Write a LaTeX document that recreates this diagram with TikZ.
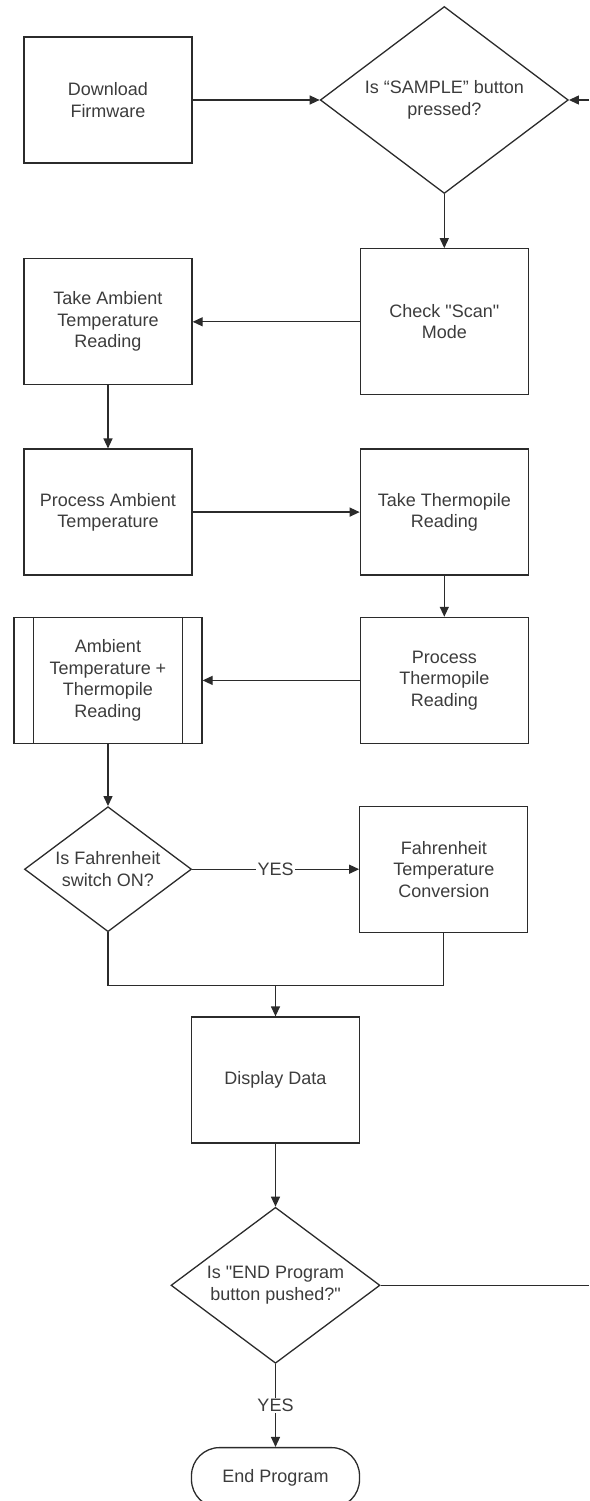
\documentclass[tikz,border=0pt]{standalone}
\usepackage{fontspec}
\setmainfont{Liberation Sans}
\usepackage{tikz}
\usetikzlibrary{arrows.meta, positioning, shapes.geometric}
\definecolor{ink}{HTML}{2B2B2B}
\definecolor{label}{HTML}{3C3C3C}

\begin{document}
\begin{tikzpicture}[
  every node/.style={font=\fontsize{18}{21.5}\selectfont, text=label},
  box/.style={draw=ink, line width=1.3pt, align=center, inner sep=0pt,
              minimum width=168pt, minimum height=126pt},
  predef/.style={box, minimum width=188pt},
  decision/.style={draw=ink, line width=1.3pt, diamond, aspect=1.33,
                   align=center, inner sep=0pt},
  terminal/.style={box, rounded corners=28pt, minimum height=60pt},
  link/.style={draw=ink, line width=1.3pt},
  arr/.style={link, -{Triangle[length=10pt, width=9pt]}},
  yes/.style={fill=white, inner sep=1.5pt}
]
  \useasboundingbox (0,0) rectangle (589pt,-1501pt);

  % Start and first check
  \node[box] (firmware) at (108pt,-100pt) {Download\\Firmware};
  \node[decision, minimum width=248pt, minimum height=187pt, right=127pt of firmware]
    (sample) {Is “SAMPLE” button\\pressed?};
  \node[box, minimum height=146pt, below=54pt of sample]
    (scan) {Check \textquotedbl Scan\textquotedbl\\Mode};

  % Readings
  \node[box, left=167pt of scan] (ambient) {Take Ambient\\Temperature\\Reading};
  \node[box, below=63pt of ambient] (procamb) {Process Ambient\\Temperature};
  \node[box, right=167pt of procamb] (thermo) {Take Thermopile\\Reading};
  \node[box, below=41pt of thermo] (procthermo) {Process\\Thermopile\\Reading};
  \node[predef, left=157pt of procthermo]
    (combined) {Ambient\\Temperature +\\Thermopile\\Reading};
  \draw[link] ([xshift=20pt]combined.north west) -- ([xshift=20pt]combined.south west);
  \draw[link] ([xshift=-20pt]combined.north east) -- ([xshift=-20pt]combined.south east);

  % Conversion and output
  \node[decision, minimum width=167pt, minimum height=125pt, below=62pt of combined]
    (fahr) {Is Fahrenheit\\switch ON?};
  \node[box, right=167pt of fahr] (conv) {Fahrenheit\\Temperature\\Conversion};
  \node[box, below=84pt of fahr, xshift=167.5pt] (display) {Display Data};
  \node[decision, minimum width=209pt, minimum height=156pt, below=63pt of display]
    (endq) {Is \textquotedbl END Program\\button pushed?\textquotedbl};
  \node[terminal, below=83pt of endq] (stop) {End Program};

  \coordinate (edge) at (589pt,0);
  \coordinate[above=31pt of display.north] (merge);

  \draw[arr] (firmware.east) -- (sample.west);
  \draw[arr] (sample.east -| edge) -- (sample.east);
  \draw[arr] (sample.south) -- (scan.north);
  \draw[arr] (scan.west) -- (ambient.east);
  \draw[arr] (ambient.south) -- (procamb.north);
  \draw[arr] (procamb.east) -- (thermo.west);
  \draw[arr] (thermo.south) -- (procthermo.north);
  \draw[arr] (procthermo.west) -- (combined.east);
  \draw[arr] (combined.south) -- (fahr.north);
  \draw[arr] (fahr.east) -- node[yes] {YES} (conv.west);
  \draw[link] (fahr.south) |- (merge) -| (conv.south);
  \draw[arr] (merge) -- (display.north);
  \draw[arr] (display.south) -- (endq.north);
  \draw[link] (endq.east) -- (endq.east -| edge);
  \draw[arr] (endq.south) -- node[yes] {YES} (stop.north);
\end{tikzpicture}
\end{document}
